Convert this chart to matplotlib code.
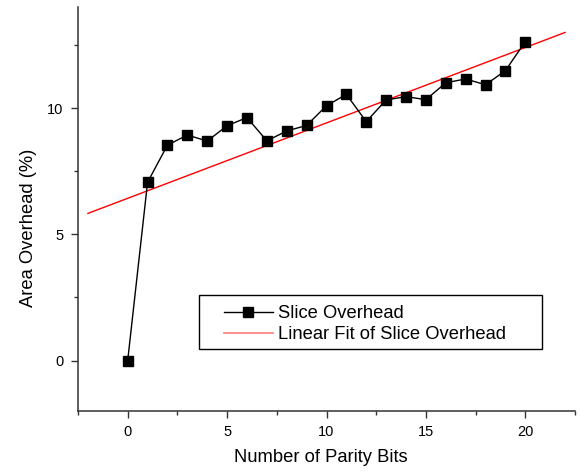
import numpy as np
import matplotlib
matplotlib.use("Agg")
import matplotlib.pyplot as plt
from matplotlib.ticker import MultipleLocator
from matplotlib.lines import Line2D
from matplotlib.patches import Rectangle

plt.rcParams['font.family'] = ['Liberation Sans', 'DejaVu Sans']

parity_bits = np.arange(0, 21)
overhead = [0.0, 7.06, 8.53, 8.93, 8.69, 9.30, 9.62, 8.70, 9.09, 9.31, 10.09,
            10.54, 9.46, 10.32, 10.45, 10.33, 11.00, 11.15, 10.92, 11.48, 12.63]
fit_range = [-2, 22]
series_labels = ['Slice Overhead', 'Linear Fit of Slice Overhead']

W, H = 581, 476
fig = plt.figure(figsize=(W/100, H/100), dpi=100)
ax = fig.add_axes([78/W, 1-411/H, (575-78)/W, (411-7)/H])

ax.plot(parity_bits, overhead, color='black', lw=1.0, marker='s', ms=7.2,
        mfc='black', mec='black', zorder=3)
slope, intercept = np.polyfit(parity_bits, overhead, 1)
xf = np.array(fit_range, dtype=float)
ax.plot(xf, slope*xf + intercept, color='#ff0000', lw=1.0, zorder=2)

ax.set_xlim(-2.5, 22.5)
ax.set_ylim(-2, 14)
ax.xaxis.set_major_locator(MultipleLocator(5))
ax.xaxis.set_minor_locator(MultipleLocator(2.5))
ax.yaxis.set_major_locator(MultipleLocator(5))
ax.yaxis.set_minor_locator(MultipleLocator(2.5))
for s in ['top', 'right']:
    ax.spines[s].set_visible(False)
for s in ['left', 'bottom']:
    ax.spines[s].set_color('#333333')
    ax.spines[s].set_linewidth(1.1)
ax.tick_params(which='major', direction='out', length=5, width=1.0, color='#333333',
               labelsize=10.5)
ax.tick_params(axis='x', which='major', pad=5)
ax.tick_params(axis='y', which='major', pad=5.5)
ax.tick_params(which='minor', direction='out', length=3, width=1.0, color='#333333')

ax.set_xlabel('Number of Parity Bits', fontsize=13.2)
ax.set_ylabel('Area Overhead (%)', fontsize=13.2)
ax.xaxis.set_label_coords((321-78)/497, (411-449.5)/404)
ax.yaxis.set_label_coords((37-78)/497, (411-228)/404)

# legend frame
ax.add_patch(Rectangle((199/W, 1-349/H), (541.7-199)/W, (349-295)/H,
                       transform=fig.transFigure, facecolor='white',
                       edgecolor='black', lw=1.0, zorder=4, clip_on=False))
handles = [Line2D([], [], color='black', lw=1.0, marker='s', ms=7.2),
           Line2D([], [], color='#ff8585', lw=1.3)]
leg = ax.legend(handles, series_labels, loc='upper left',
                bbox_to_anchor=(224/W, 1-305.5/H), bbox_transform=fig.transFigure,
                borderaxespad=0, borderpad=0, fontsize=13.2, frameon=False,
                handlelength=2.67, handletextpad=0.26, labelspacing=0.19)
leg.set_zorder(5)

fig.savefig('out.png', dpi=100)
